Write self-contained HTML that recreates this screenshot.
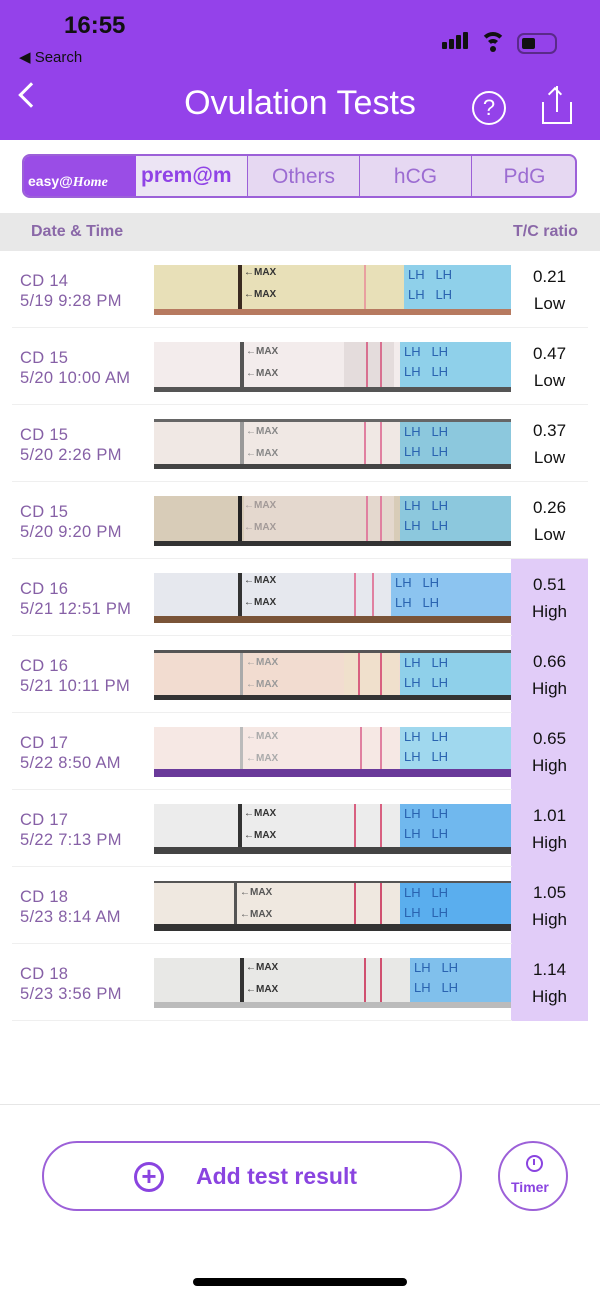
<!DOCTYPE html>
<html><head><meta charset="utf-8"><style>
*{margin:0;padding:0;box-sizing:border-box}
body{width:600px;height:1297px;position:relative;background:#fff;font-family:"Liberation Sans",sans-serif;overflow:hidden}
.a{position:absolute}
.hdr{left:0;top:0;width:600px;height:140px;background:#9442ea}
.row{position:absolute;left:0;width:600px;height:77px}
.lbl{position:absolute;left:20px;top:20px;color:#8660a6;font-size:16.5px;line-height:20px;letter-spacing:0.3px}
.strip{position:absolute;left:154px;top:14px;width:357px;height:50px;overflow:hidden}
.rat{position:absolute;left:511px;top:0;width:77px;height:77px;text-align:center;font-size:17px;line-height:27px;padding-top:12px;color:#111}
.hi{background:#e1ccf8}
.sep{position:absolute;left:12px;right:12px;bottom:0;height:1px;background:#efefef}
.max{position:absolute;font-size:10px;font-weight:bold;color:#333;font-family:"Liberation Sans Narrow","Liberation Sans",sans-serif}
.blue{position:absolute;top:0;height:100%;background:#8fd0ea;color:#2a63b0;font-size:13px;line-height:20px;padding-left:4px;white-space:nowrap}
</style></head><body>
<div class="a hdr"></div>
<div class="a" style="left:64px;top:12px;font-size:24px;font-weight:bold;color:#111">16:55</div>
<div class="a" style="left:19px;top:48px;font-size:15px;color:#111">◀ Search</div>
<div class="a" style="left:442px;top:32px;width:30px;height:18px">
<div class="a" style="left:0;top:10px;width:5px;height:7px;background:#111;border-radius:1px"></div>
<div class="a" style="left:7px;top:7px;width:5px;height:10px;background:#111;border-radius:1px"></div>
<div class="a" style="left:14px;top:3px;width:5px;height:14px;background:#111;border-radius:1px"></div>
<div class="a" style="left:21px;top:0;width:5px;height:17px;background:#111;border-radius:1px"></div></div>
<div class="a" style="left:480px;top:30px;width:26px;height:26px;overflow:hidden">
<div class="a" style="left:0;top:2px;width:26px;height:26px;border-radius:50%;border:4px solid #111;clip-path:polygon(50% 50%,0 0,100% 0)"></div>
<div class="a" style="left:6px;top:9px;width:14px;height:14px;border-radius:50%;border:4px solid #111;clip-path:polygon(50% 50%,0 0,100% 0)"></div>
<div class="a" style="left:10px;top:16px;width:6px;height:6px;background:#111;border-radius:50%"></div></div>
<div class="a" style="left:517px;top:33px;width:40px;height:21px;border:2px solid #5a2a8a;border-radius:7px"><div style="margin:3px;width:13px;height:11px;background:#111;border-radius:2px"></div></div>
<div class="a" style="left:22px;top:86px;width:18px;height:18px;border-left:3px solid #fff;border-bottom:3px solid #fff;transform:rotate(45deg)"></div>
<div class="a" style="left:0;width:600px;top:84px;text-align:center;font-size:34px;color:#fff">Ovulation Tests</div>
<div class="a" style="left:472px;top:91px;width:34px;height:34px;border:2px solid #fff;border-radius:50%;color:#fff;text-align:center;font-size:22px;line-height:30px">?</div>
<div class="a" style="left:542px;top:100px;width:30px;height:24px;border:2px solid #fff;border-top:none"></div>
<div class="a" style="left:542px;top:100px;width:10px;height:2px;background:#9442ea"></div>
<div class="a" style="left:562px;top:100px;width:10px;height:2px;background:#9442ea"></div>
<div class="a" style="left:556px;top:86px;width:2px;height:26px;background:#fff"></div>
<div class="a" style="left:550px;top:89px;width:10px;height:10px;border-left:2px solid #fff;border-top:2px solid #fff;transform:rotate(45deg)"></div>
<!-- tabs -->
<div class="a" style="left:22px;top:154px;width:555px;height:44px;border:2px solid #9c60d8;border-radius:8px;background:#e6d8f2;overflow:hidden">
<div class="a" style="left:0;top:0;width:112px;height:40px;background:#9a4de6;color:#fff;font-size:14px;font-weight:bold;line-height:50px;padding-left:4px">easy@<i style="font-family:'Liberation Serif',serif">Home</i></div>
<div class="a" style="left:112px;top:0;width:111px;height:40px;background:#ece4f4;color:#9043e6;font-size:21px;font-weight:bold;line-height:40px;padding-left:5px">prem@m</div>
<div class="a" style="left:223px;top:0;width:1px;height:40px;background:#9c60d8"></div>
<div class="a" style="left:224px;top:0;width:111px;height:40px;color:#9c6cd2;font-size:21px;line-height:42px;text-align:center">Others</div>
<div class="a" style="left:335px;top:0;width:1px;height:40px;background:#9c60d8"></div>
<div class="a" style="left:336px;top:0;width:111px;height:40px;color:#9c6cd2;font-size:21px;line-height:42px;text-align:center">hCG</div>
<div class="a" style="left:447px;top:0;width:1px;height:40px;background:#9c60d8"></div>
<div class="a" style="left:448px;top:0;width:105px;height:40px;color:#9c6cd2;font-size:21px;line-height:42px;text-align:center">PdG</div>
</div>
<div class="a" style="left:0;top:213px;width:600px;height:38px;background:#e8e8e8"></div>
<div class="a" style="left:31px;top:223px;font-size:16px;font-weight:bold;color:#8a68a8">Date &amp; Time</div>
<div class="a" style="left:513px;top:223px;font-size:16px;font-weight:bold;color:#8a68a8">T/C ratio</div>

<div class="row" style="top:251px"><div class="lbl">CD 14<br>5/19 9:28 PM</div><div class="strip" style="background:#e8e0b8;border-bottom:6px solid #b77a60"><div class="a" style="left:84px;top:0;width:4px;height:44px;background:#3a2a20"></div><div class="max" style="left:90px;top:2px">←MAX<br><br>←MAX</div><div class="a" style="left:210px;width:2px;top:0;height:44px;background:#e8a0a0"></div><div class="blue" style="left:250px;width:107px">LH &nbsp; LH<br>LH &nbsp; LH</div></div><div class="rat">0.21<br>Low</div><div class="sep"></div></div>
<div class="row" style="top:328px"><div class="lbl">CD 15<br>5/20 10:00 AM</div><div class="strip" style="background:#f3ecec;border-bottom:5px solid #555"><div class="a" style="left:86px;top:0;width:4px;height:45px;background:#555"></div><div class="max" style="left:92px;top:4px;color:#666">←MAX<br><br>←MAX</div><div class="a" style="left:190px;width:50px;top:0;height:45px;background:#e4dcdc"></div><div class="a" style="left:212px;width:2px;top:0;height:45px;background:#d87090"></div><div class="a" style="left:226px;width:2px;top:0;height:45px;background:#d87090"></div><div class="blue" style="left:246px;width:111px">LH &nbsp; LH<br>LH &nbsp; LH</div></div><div class="rat">0.47<br>Low</div><div class="sep"></div></div>
<div class="row" style="top:405px"><div class="lbl">CD 15<br>5/20 2:26 PM</div><div class="strip" style="background:#f0e8e4;border-top:3px solid #666;border-bottom:5px solid #444"><div class="a" style="left:86px;top:0;width:4px;height:45px;background:#999"></div><div class="max" style="left:92px;top:4px;color:#888">←MAX<br><br>←MAX</div><div class="a" style="left:210px;width:2px;top:0;height:45px;background:#e080a0"></div><div class="a" style="left:226px;width:2px;top:0;height:45px;background:#e080a0"></div><div class="blue" style="left:246px;width:111px;background:#8cc8dd">LH &nbsp; LH<br>LH &nbsp; LH</div></div><div class="rat">0.37<br>Low</div><div class="sep"></div></div>
<div class="row" style="top:482px"><div class="lbl">CD 15<br>5/20 9:20 PM</div><div class="strip" style="background:#d8ccb8;border-bottom:5px solid #333"><div class="a" style="left:84px;top:0;width:4px;height:45px;background:#222"></div><div class="max" style="left:90px;top:4px">←MAX<br><br>←MAX</div><div class="a" style="left:90px;width:150px;top:0;height:45px;background:#ece0dc;opacity:.6"></div><div class="a" style="left:212px;width:2px;top:0;height:45px;background:#e080a0"></div><div class="a" style="left:226px;width:2px;top:0;height:45px;background:#e080a0"></div><div class="blue" style="left:246px;width:111px;background:#8cc8dd">LH &nbsp; LH<br>LH &nbsp; LH</div></div><div class="rat">0.26<br>Low</div><div class="sep"></div></div>
<div class="row" style="top:559px"><div class="lbl">CD 16<br>5/21 12:51 PM</div><div class="strip" style="background:#e6e8ee;border-bottom:7px solid #7a5438"><div class="a" style="left:84px;top:0;width:4px;height:43px;background:#333"></div><div class="max" style="left:90px;top:2px">←MAX<br><br>←MAX</div><div class="a" style="left:200px;width:2px;top:0;height:43px;background:#e080a0"></div><div class="a" style="left:218px;width:2px;top:0;height:43px;background:#e080a0"></div><div class="blue" style="left:237px;width:120px;background:#8cc4f0">LH &nbsp; LH<br>LH &nbsp; LH</div></div><div class="rat hi">0.51<br>High</div><div class="sep" style="right:88px"></div></div>
<div class="row" style="top:636px"><div class="lbl">CD 16<br>5/21 10:11 PM</div><div class="strip" style="background:#f2dcd0;border-top:3px solid #555;border-bottom:5px solid #333"><div class="a" style="left:86px;top:0;width:3px;height:45px;background:#aaa"></div><div class="max" style="left:92px;top:4px;color:#999">←MAX<br><br>←MAX</div><div class="a" style="left:190px;width:55px;top:0;height:45px;background:#f0e0cc"></div><div class="a" style="left:204px;width:2px;top:0;height:45px;background:#d86080"></div><div class="a" style="left:226px;width:2px;top:0;height:45px;background:#d86080"></div><div class="blue" style="left:246px;width:111px">LH &nbsp; LH<br>LH &nbsp; LH</div></div><div class="rat hi">0.66<br>High</div><div class="sep" style="right:88px"></div></div>
<div class="row" style="top:713px"><div class="lbl">CD 17<br>5/22 8:50 AM</div><div class="strip" style="background:#f6e8e4;border-bottom:8px solid #6a3a9a"><div class="a" style="left:86px;top:0;width:3px;height:42px;background:#bbb"></div><div class="max" style="left:92px;top:4px;color:#aaa">←MAX<br><br>←MAX</div><div class="a" style="left:206px;width:2px;top:0;height:42px;background:#e080a0"></div><div class="a" style="left:226px;width:2px;top:0;height:42px;background:#e080a0"></div><div class="blue" style="left:246px;width:111px;background:#a0d8ee">LH &nbsp; LH<br>LH &nbsp; LH</div></div><div class="rat hi">0.65<br>High</div><div class="sep" style="right:88px"></div></div>
<div class="row" style="top:790px"><div class="lbl">CD 17<br>5/22 7:13 PM</div><div class="strip" style="background:#ececec;border-bottom:7px solid #444"><div class="a" style="left:84px;top:0;width:4px;height:43px;background:#333"></div><div class="max" style="left:90px;top:4px">←MAX<br><br>←MAX</div><div class="a" style="left:200px;width:2px;top:0;height:43px;background:#d86080"></div><div class="a" style="left:226px;width:2px;top:0;height:43px;background:#d86080"></div><div class="blue" style="left:246px;width:111px;background:#70b8ee">LH &nbsp; LH<br>LH &nbsp; LH</div></div><div class="rat hi">1.01<br>High</div><div class="sep" style="right:88px"></div></div>
<div class="row" style="top:867px"><div class="lbl">CD 18<br>5/23 8:14 AM</div><div class="strip" style="background:#efe8e0;border-top:2px solid #555;border-bottom:7px solid #333"><div class="a" style="left:80px;top:0;width:3px;height:41px;background:#555"></div><div class="max" style="left:86px;top:4px;color:#555">←MAX<br><br>←MAX</div><div class="a" style="left:200px;width:2px;top:0;height:41px;background:#d05070"></div><div class="a" style="left:226px;width:2px;top:0;height:41px;background:#d05070"></div><div class="blue" style="left:246px;width:111px;background:#5aaeee">LH &nbsp; LH<br>LH &nbsp; LH</div></div><div class="rat hi">1.05<br>High</div><div class="sep" style="right:88px"></div></div>
<div class="row" style="top:944px"><div class="lbl">CD 18<br>5/23 3:56 PM</div><div class="strip" style="background:#e8e8e6;border-bottom:6px solid #bbb"><div class="a" style="left:86px;top:0;width:4px;height:44px;background:#333"></div><div class="max" style="left:92px;top:4px">←MAX<br><br>←MAX</div><div class="a" style="left:210px;width:2px;top:0;height:44px;background:#d05070"></div><div class="a" style="left:226px;width:2px;top:0;height:44px;background:#d05070"></div><div class="blue" style="left:256px;width:101px;background:#80c0ec">LH &nbsp; LH<br>LH &nbsp; LH</div></div><div class="rat hi">1.14<br>High</div><div class="sep" style="right:88px"></div></div>

<div class="a" style="left:0;top:1104px;width:600px;height:1px;background:#e6e6e6"></div>
<div class="a" style="left:42px;top:1141px;width:420px;height:70px;border:2px solid #9c60d8;border-radius:35px"></div>
<div class="a" style="left:134px;top:1162px;width:30px;height:30px;border:3px solid #8a44e0;border-radius:50%;color:#8a44e0;text-align:center;font-size:26px;line-height:22px;font-weight:bold">+</div>
<div class="a" style="left:196px;top:1163px;font-size:23px;font-weight:bold;color:#8a44e0">Add test result</div>
<div class="a" style="left:498px;top:1141px;width:70px;height:70px;border:2px solid #9c60d8;border-radius:50%"></div>
<div class="a" style="left:526px;top:1155px;width:17px;height:17px;border:2.5px solid #8a44e0;border-radius:50%"></div>
<div class="a" style="left:533px;top:1159px;width:2px;height:6px;background:#8a44e0"></div>
<div class="a" style="left:511px;top:1179px;font-size:14px;font-weight:bold;color:#8a44e0">Timer</div>
<div class="a" style="left:193px;top:1278px;width:214px;height:8px;background:#000;border-radius:4px"></div>
</body></html>
